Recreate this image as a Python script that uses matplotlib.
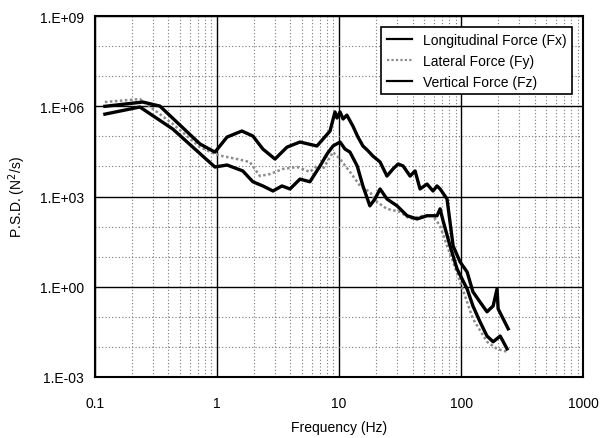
import numpy as np
import matplotlib
matplotlib.use("Agg")
import matplotlib.pyplot as plt
from matplotlib.ticker import FixedLocator, FuncFormatter, NullFormatter

plt.rcParams['font.family'] = ['Liberation Sans', 'DejaVu Sans']

# Longitudinal force (Fx)
fx_freq = [0.121, 0.234, 0.435, 0.767, 0.964, 1.21, 1.63, 1.97, 2.38, 2.88, 3.41, 3.97,
           4.79, 5.78, 6.99, 7.98, 8.93, 10.2, 11.2, 12.3, 14.1, 15.7, 17.9, 19.7, 21.7,
           24.7, 29.9, 36.1, 43.6, 52.6, 63.5, 67.3, 71.2, 81.2, 92.7, 112, 125, 143,
           163, 183, 209, 238]
fx_psd = [5.5e5, 9.5e5, 1.76e5, 2.2e4, 9.6e3, 1.12e4, 7.1e3, 3.1e3, 2.25e3, 1.53e3, 2.25e3, 1.79e3,
          3.8e3, 3.1e3, 1.04e4, 2.6e4, 4.8e4, 6.5e4, 3.8e4, 3.0e4, 1.04e4, 2.25e3, 4.9e2, 8.3e2, 1.79e3,
          8.3e2, 4.9e2, 2.3e2, 1.8e2, 2.3e2, 2.3e2, 3.9e2, 1.55e2, 22.9, 3.9, 0.85, 0.23, 0.068,
          0.023, 0.0148, 0.023, 0.0086]

# Lateral force (Fy)
fy_freq = [0.121, 0.234, 0.435, 0.727, 0.964, 1.12, 1.46, 1.86, 2.25, 2.72, 3.48, 4.53,
           5.78, 6.60, 7.39, 8.93, 10.2, 12.3, 14.9, 17.9, 20.5, 24.7, 31.6, 38.2, 48.9,
           58.9, 67.3, 76.7, 86.0, 98.1, 125, 163, 197, 238]
fy_psd = [1.39e6, 1.75e6, 2.6e5, 4.4e4, 2.6e4, 2.2e4, 1.77e4, 1.41e4, 4.8e3, 5.6e3, 8.3e3, 9.6e3,
          6.6e3, 1.04e4, 8.3e3, 3.0e4, 1.77e4, 6.6e3, 2.25e3, 1.42e3, 6.6e2, 3.9e2, 3.1e2, 1.8e2, 2.3e2,
          2.3e2, 105, 22.9, 6.7, 1.46, 0.086, 0.0148, 0.0086, 0.0069]

# Vertical force (Fz)
fz_freq = [0.121, 0.247, 0.341, 0.727, 0.964, 1.21, 1.60, 1.97, 2.38, 2.99, 3.75, 4.79,
           6.60, 8.44, 9.27, 9.63, 10.2, 10.8, 11.6, 13.0, 14.3, 15.7, 17.3, 19.0, 21.7,
           24.7, 27.7, 30.5, 33.5, 38.2, 42.0, 46.1, 52.6, 58.9, 63.5, 67.3, 76.7, 86.0,
           98.1, 112, 125, 143, 163, 183, 197, 201, 221, 243]
fz_psd = [1.0e6, 1.39e6, 1.02e6, 5.6e4, 3.0e4, 9.5e4, 1.51e5, 1.03e5, 3.8e4, 1.77e4, 4.4e4, 6.5e4,
          4.8e4, 1.51e5, 6.5e5, 4.1e5, 6.5e5, 3.8e5, 5.1e5, 2.2e5, 9.5e4, 4.8e4, 3.3e4, 2.2e4, 1.41e4,
          4.8e3, 8.3e3, 1.21e4, 1.04e4, 4.8e3, 7.1e3, 1.79e3, 2.6e3, 1.53e3, 2.25e3, 1.79e3, 8.3e2, 22.9,
          6.7, 3.1, 0.68, 0.31, 0.147, 0.23, 0.85, 0.185, 0.086, 0.040]

x_ticks = [0.1, 1, 10, 100, 1000]
x_labels = ["0.1", "1", "10", "100", "1000"]
y_ticks = [1e-3, 1e0, 1e3, 1e6, 1e9]

fig = plt.figure(figsize=(6, 4.39), dpi=100)
ax = fig.add_axes([0.158, 0.139, 0.814, 0.822])

ax.plot(fx_freq, fx_psd, color="black", lw=2.4, label="Longitudinal Force (Fx)", zorder=4)
ax.plot(fy_freq, fy_psd, color="#8c8c8c", lw=1.8, ls=(0, (1, 1)), label="Lateral Force (Fy)", zorder=3)
ax.plot(fz_freq, fz_psd, color="black", lw=2.4, label="Vertical Force (Fz)", zorder=4)

ax.set_xscale("log")
ax.set_yscale("log")
ax.set_xlim(0.1, 1000)
ax.set_ylim(1e-3, 1e9)

ax.xaxis.set_major_locator(FixedLocator(x_ticks))
ax.xaxis.set_major_formatter(FuncFormatter(lambda v, p: x_labels[x_ticks.index(v)] if v in x_ticks else ""))
xminor = [m * 10.0 ** k for k in range(-1, 3) for m in range(2, 10)]
ax.xaxis.set_minor_locator(FixedLocator(xminor))
ax.xaxis.set_minor_formatter(NullFormatter())

ax.yaxis.set_major_locator(FixedLocator(y_ticks))
ax.yaxis.set_major_formatter(FuncFormatter(lambda v, p: "1.E%+03d" % int(round(np.log10(v)))))
yminor = [10.0 ** k for k in range(-3, 10) if k % 3 != 0]
ax.yaxis.set_minor_locator(FixedLocator(yminor))
ax.yaxis.set_minor_formatter(NullFormatter())

ax.grid(which="major", color="black", lw=1.0, ls="-")
ax.grid(which="minor", color="#777777", lw=0.8, ls=(0, (1, 2)))
ax.set_axisbelow(True)
ax.tick_params(which="both", length=0, labelsize=10)
ax.tick_params(axis="x", pad=14)
ax.tick_params(axis="y", pad=8)

for s in ax.spines.values():
    s.set_linewidth(1.5)

ax.set_xlabel("Frequency (Hz)", fontsize=10, labelpad=7)
ax.set_ylabel("P.S.D. (N$^2$/s)", fontsize=10, labelpad=8)

leg = ax.legend(loc="upper right", fontsize=10, frameon=True, fancybox=False,
                edgecolor="black", framealpha=1, handlelength=1.8, borderaxespad=0.8)
leg.get_frame().set_linewidth(1.2)
for ln in leg.get_lines():
    ln.set_linewidth(1.6)

fig.savefig("out.png", dpi=100)
